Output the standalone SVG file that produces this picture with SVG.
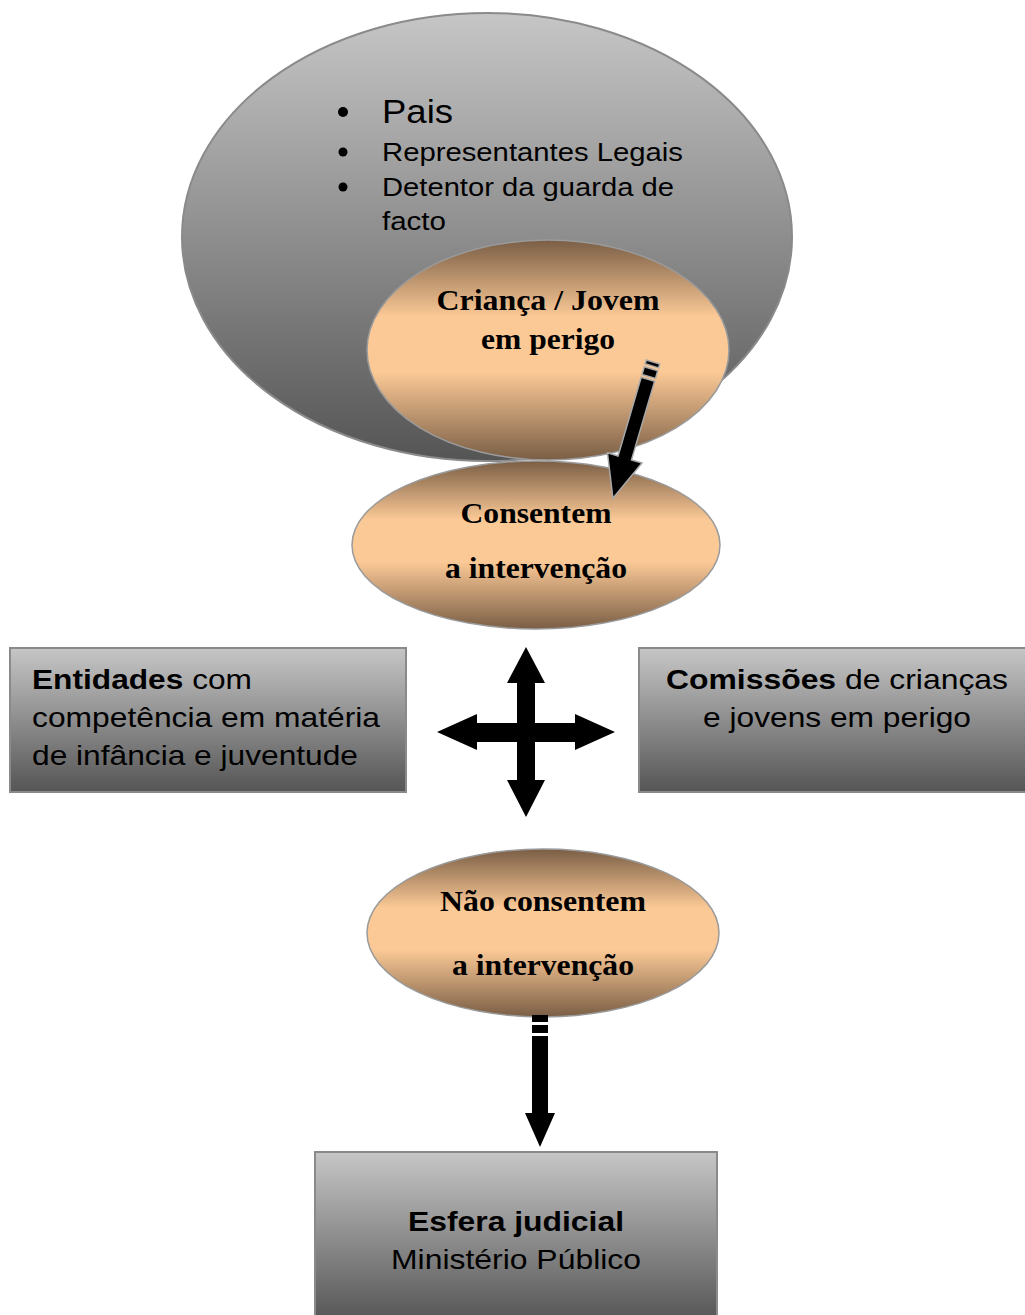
<svg xmlns="http://www.w3.org/2000/svg" width="1025" height="1315" viewBox="0 0 1025 1315">
<defs>
<linearGradient id="gray" x1="0" y1="0" x2="0" y2="1">
<stop offset="0" stop-color="#c6c6c6"/>
<stop offset="1" stop-color="#555555"/>
</linearGradient>
<linearGradient id="peach" x1="0" y1="0" x2="0" y2="1">
<stop offset="0" stop-color="#7a5e45"/>
<stop offset="0.35" stop-color="#fbc996"/>
<stop offset="0.6" stop-color="#fbc996"/>
<stop offset="1" stop-color="#7a5e45"/>
</linearGradient>
<style>
.gshape{fill:url(#gray);stroke:#8a8a8a;stroke-width:2}
.pshape{fill:url(#peach);stroke:#9a9a9a;stroke-width:1.5}
.sans{font-family:"Liberation Sans",Arial,sans-serif;fill:#000}
.serif{font-family:"Liberation Serif","Times New Roman",serif;font-weight:bold;font-size:30px;fill:#000;text-anchor:middle}
.box{font-size:28px}
</style>
</defs>
<rect width="1025" height="1315" fill="#fff"/>

<g id="pais">
<ellipse class="gshape" cx="487" cy="237" rx="305" ry="224"/>
<circle cx="343" cy="112" r="5"/>
<circle cx="343" cy="152" r="4.5"/>
<circle cx="343" cy="187" r="4.5"/>
<text class="sans" x="382" y="123" font-size="33" textLength="71" lengthAdjust="spacingAndGlyphs">Pais</text>
<text class="sans" x="382" y="161" font-size="26" textLength="301" lengthAdjust="spacingAndGlyphs">Representantes Legais</text>
<text class="sans" x="382" y="196" font-size="26" textLength="292" lengthAdjust="spacingAndGlyphs">Detentor da guarda de</text>
<text class="sans" x="382" y="230" font-size="26" textLength="64" lengthAdjust="spacingAndGlyphs">facto</text>
</g>

<g id="crianca">
<ellipse class="pshape" cx="548" cy="350" rx="181" ry="110"/>
<text class="serif" x="548" y="310" textLength="223" lengthAdjust="spacingAndGlyphs">Criança / Jovem</text>
<text class="serif" x="548" y="349" textLength="134" lengthAdjust="spacingAndGlyphs">em perigo</text>
</g>

<g id="consentem">
<ellipse class="pshape" cx="536" cy="545" rx="184" ry="84"/>
<text class="serif" x="536" y="523" textLength="151" lengthAdjust="spacingAndGlyphs">Consentem</text>
<text class="serif" x="536" y="578" textLength="182" lengthAdjust="spacingAndGlyphs">a intervenção</text>
</g>

<g id="entidades">
<rect class="gshape" x="10" y="648" width="396" height="144"/>
<text class="sans box" x="32" y="689" textLength="220" lengthAdjust="spacingAndGlyphs"><tspan font-weight="bold">Entidades</tspan> com</text>
<text class="sans box" x="32" y="727" textLength="348" lengthAdjust="spacingAndGlyphs">competência em matéria</text>
<text class="sans box" x="32" y="765" textLength="326" lengthAdjust="spacingAndGlyphs">de infância e juventude</text>
</g>

<g id="comissoes">
<rect class="gshape" x="639" y="648" width="392" height="144"/>
<text class="sans box" x="837" y="689" text-anchor="middle" textLength="342" lengthAdjust="spacingAndGlyphs"><tspan font-weight="bold">Comissões</tspan> de crianças</text>
<text class="sans box" x="837" y="727" text-anchor="middle" textLength="268" lengthAdjust="spacingAndGlyphs">e jovens em perigo</text>
</g>

<g id="nao-consentem">
<ellipse class="pshape" cx="543" cy="933" rx="176" ry="84"/>
<text class="serif" x="543" y="911" textLength="206" lengthAdjust="spacingAndGlyphs">Não consentem</text>
<text class="serif" x="543" y="975" textLength="182" lengthAdjust="spacingAndGlyphs">a intervenção</text>
</g>

<g id="esfera">
<rect class="gshape" x="315" y="1152" width="402" height="170"/>
<text class="sans box" x="516" y="1231" text-anchor="middle" font-weight="bold" textLength="216" lengthAdjust="spacingAndGlyphs">Esfera judicial</text>
<text class="sans box" x="516" y="1269" text-anchor="middle" textLength="250" lengthAdjust="spacingAndGlyphs">Ministério Público</text>
</g>

<g id="connectors">
<g transform="translate(653,362) rotate(16.4)" fill="#000" stroke="#a8a8a8" stroke-width="1.5">
<rect x="-7" y="0" width="14" height="4"/>
<rect x="-7" y="7" width="14" height="8"/>
<polygon points="-7,18 7,18 7,100 18,100 0,142 -18,100 -7,100"/>
</g>
<polygon fill="#000" points="526,647 545,683 535,683 535,723 575,723 575,714 615,732 575,750 575,742 535,742 535,780 545,780 526,817 507,780 517,780 517,742 477,742 477,750 437,732 477,714 477,723 517,723 517,683 507,683"/>
<g fill="#000">
<rect x="532" y="1015" width="16" height="7"/>
<rect x="532" y="1025" width="16" height="8"/>
<polygon points="532,1036 548,1036 548,1113 555,1113 540,1147 525,1113 532,1113"/>
</g>
</g>
</svg>
